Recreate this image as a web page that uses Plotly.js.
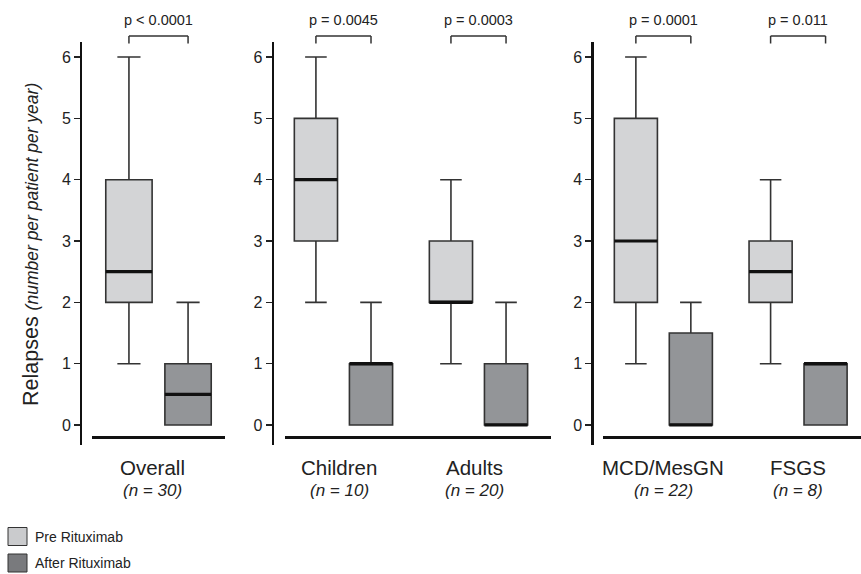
<!DOCTYPE html>
<html><head><meta charset="utf-8">
<script src="https://cdn.plot.ly/plotly-3.0.1.min.js"></script>
<style>html,body{margin:0;padding:0;background:#fff}</style>
</head><body><div id="chart" style="width:861px;height:574px"></div>
<script>
// ---------- DATA ----------
const seriesNames = ['Pre Rituximab', 'After Rituximab'];
const yTitleMain = 'Relapses';
const yTitleSub = '(number per patient per year)';
const yTickValues = [0, 1, 2, 3, 4, 5, 6];

const panel1Categories = ['Overall'];
const panel1N = [30];
const panel1P = ['p < 0.0001'];
const panel1PreLower = [1], panel1PreQ1 = [2], panel1PreMedian = [2.5], panel1PreQ3 = [4], panel1PreUpper = [6];
const panel1AfterLower = [0], panel1AfterQ1 = [0], panel1AfterMedian = [0.5], panel1AfterQ3 = [1], panel1AfterUpper = [2];

const panel2Categories = ['Children', 'Adults'];
const panel2N = [10, 20];
const panel2P = ['p = 0.0045', 'p = 0.0003'];
const panel2PreLower = [2, 1], panel2PreQ1 = [3, 2], panel2PreMedian = [4, 2], panel2PreQ3 = [5, 3], panel2PreUpper = [6, 4];
const panel2AfterLower = [0, 0], panel2AfterQ1 = [0, 0], panel2AfterMedian = [1, 0], panel2AfterQ3 = [1, 1], panel2AfterUpper = [2, 2];

const panel3Categories = ['MCD/MesGN', 'FSGS'];
const panel3N = [22, 8];
const panel3P = ['p = 0.0001', 'p = 0.011'];
const panel3PreLower = [1, 1], panel3PreQ1 = [2, 2], panel3PreMedian = [3, 2.5], panel3PreQ3 = [5, 3], panel3PreUpper = [6, 4];
const panel3AfterLower = [0, 0], panel3AfterQ1 = [0, 0], panel3AfterMedian = [0, 1], panel3AfterQ3 = [1.5, 1], panel3AfterUpper = [2, 1];

// ---------- LAYOUT / STYLE ----------
const W = 861, H = 574;
const px = x => x / W;
const py = y => 1 - y / H;
const FONT = 'Liberation Sans, Arial, sans-serif';
const preFill = '#d3d4d6', afterFill = '#939598';
const boxLine = '#333333';
const BOXGAP = 0.184, BOXGROUPGAP = 0.216;
const halfSlot = (1 - BOXGAP) / 4;

const panels = [
  {cats: panel1Categories, n: panel1N, p: panel1P,
   pre: [panel1PreLower, panel1PreQ1, panel1PreMedian, panel1PreQ3, panel1PreUpper],
   after: [panel1AfterLower, panel1AfterQ1, panel1AfterMedian, panel1AfterQ3, panel1AfterUpper],
   axisX: 81, dom: [92, 225], range: [-0.459, 0.459], labShift: -6},
  {cats: panel2Categories, n: panel2N, p: panel2P,
   pre: [panel2PreLower, panel2PreQ1, panel2PreMedian, panel2PreQ3, panel2PreUpper],
   after: [panel2AfterLower, panel2AfterQ1, panel2AfterMedian, panel2AfterQ3, panel2AfterUpper],
   axisX: 272.5, dom: [285, 551], range: [-0.433, 1.537], labShift: -4},
  {cats: panel3Categories, n: panel3N, p: panel3P,
   pre: [panel3PreLower, panel3PreQ1, panel3PreMedian, panel3PreQ3, panel3PreUpper],
   after: [panel3AfterLower, panel3AfterQ1, panel3AfterMedian, panel3AfterQ3, panel3AfterUpper],
   axisX: 592.3, dom: [603, 861], range: [-0.448, 1.467], labShift: 0}
];

const traces = [];
const layout = {
  width: W, height: H,
  margin: {l: 0, r: 0, t: 0, b: 0},
  paper_bgcolor: '#fff', plot_bgcolor: 'rgba(0,0,0,0)',
  showlegend: false,
  boxmode: 'group', boxgap: BOXGAP, boxgroupgap: BOXGROUPGAP,
  font: {family: FONT, color: '#222'},
  annotations: [], shapes: []
};

panels.forEach((pn, i) => {
  const k = i === 0 ? '' : String(i + 1);
  const xa = 'x' + k, ya = 'y' + k;
  [['pre', pn.pre, preFill], ['after', pn.after, afterFill]].forEach(([grp, s, fill], j) => {
    traces.push({
      type: 'box', name: seriesNames[j], x: pn.cats,
      lowerfence: s[0], q1: s[1], median: s[2], q3: s[3], upperfence: s[4],
      fillcolor: fill, line: {color: boxLine, width: 1.6}, whiskerwidth: 0.5,
      offsetgroup: grp, xaxis: xa, yaxis: ya, hoverinfo: 'skip', showlegend: false
    });
    // thick median line overlay
    traces.push({
      type: 'box', name: seriesNames[j] + ' median', x: pn.cats,
      lowerfence: s[2], q1: s[2], median: s[2], q3: s[2], upperfence: s[2],
      fillcolor: 'rgba(0,0,0,0)', line: {color: '#111', width: 3.2}, whiskerwidth: 0,
      offsetgroup: grp, xaxis: xa, yaxis: ya, hoverinfo: 'skip', showlegend: false
    });
  });
  layout['xaxis' + k] = {
    domain: [px(pn.dom[0]), px(pn.dom[1])], range: pn.range, type: 'category',
    anchor: 'free', position: py(437), showline: true, linecolor: '#111', linewidth: 2.5,
    showgrid: false, zeroline: false, ticks: '', showticklabels: false, fixedrange: true
  };
  layout['yaxis' + k] = {
    domain: [py(445), py(42)], range: [-0.326, 6.245],
    anchor: 'free', position: px(pn.axisX), showline: true, linecolor: '#111', linewidth: 2.3,
    showgrid: false, zeroline: false, ticks: 'outside', ticklen: 6, tickwidth: 1.3, tickcolor: '#222',
    tickvals: yTickValues, tickfont: {size: 16, color: '#222', family: FONT}, fixedrange: true
  };
  pn.cats.forEach((c, ci) => {
    layout.annotations.push({xref: xa, x: c, yref: 'paper', y: py(467), text: c, xshift: pn.labShift,
      showarrow: false, xanchor: 'center', yanchor: 'middle', font: {size: 20.5, color: '#222'}});
    layout.annotations.push({xref: xa, x: c, yref: 'paper', y: py(490), text: '<i>(n = ' + pn.n[ci] + ')</i>', xshift: pn.labShift,
      showarrow: false, xanchor: 'center', yanchor: 'middle', font: {size: 17, color: '#222'}});
    layout.annotations.push({xref: xa, x: ci, yref: 'paper', y: py(20), text: pn.p[ci],
      showarrow: false, xanchor: 'center', yanchor: 'middle', font: {size: 14.5, color: '#222'}});
    const bl = {color: '#333', width: 1.5};
    layout.shapes.push({type: 'line', xref: xa, yref: 'paper', x0: ci - halfSlot, x1: ci + halfSlot, y0: py(36), y1: py(36), line: bl});
    layout.shapes.push({type: 'line', xref: xa, yref: 'paper', x0: ci - halfSlot, x1: ci - halfSlot, y0: py(36), y1: py(43.5), line: bl});
    layout.shapes.push({type: 'line', xref: xa, yref: 'paper', x0: ci + halfSlot, x1: ci + halfSlot, y0: py(36), y1: py(43.5), line: bl});
  });
});

// y title
layout.annotations.push({xref: 'paper', yref: 'paper', x: px(31), y: py(245), textangle: -90,
  text: yTitleMain + ' <i><span style="font-size:17.5px">' + yTitleSub + '</span></i>',
  showarrow: false, xanchor: 'center', yanchor: 'middle', font: {size: 21.5, color: '#222'}});

// legend
const legendFills = ['#cacbcd', '#797a7d'];
const legendY = [536.5, 563];
seriesNames.forEach((nm, i) => {
  layout.shapes.push({type: 'rect', xref: 'paper', yref: 'paper', x0: px(8), x1: px(27),
    y0: py(legendY[i] + 9), y1: py(legendY[i] - 9), fillcolor: legendFills[i], line: {color: '#333', width: 1}});
  layout.annotations.push({xref: 'paper', yref: 'paper', x: px(33), y: py(legendY[i]), text: nm,
    showarrow: false, xanchor: 'left', yanchor: 'middle', font: {size: 14, color: '#222', family: FONT}});
});

Plotly.newPlot('chart', traces, layout, {staticPlot: true, displayModeBar: false});
</script></body></html>
